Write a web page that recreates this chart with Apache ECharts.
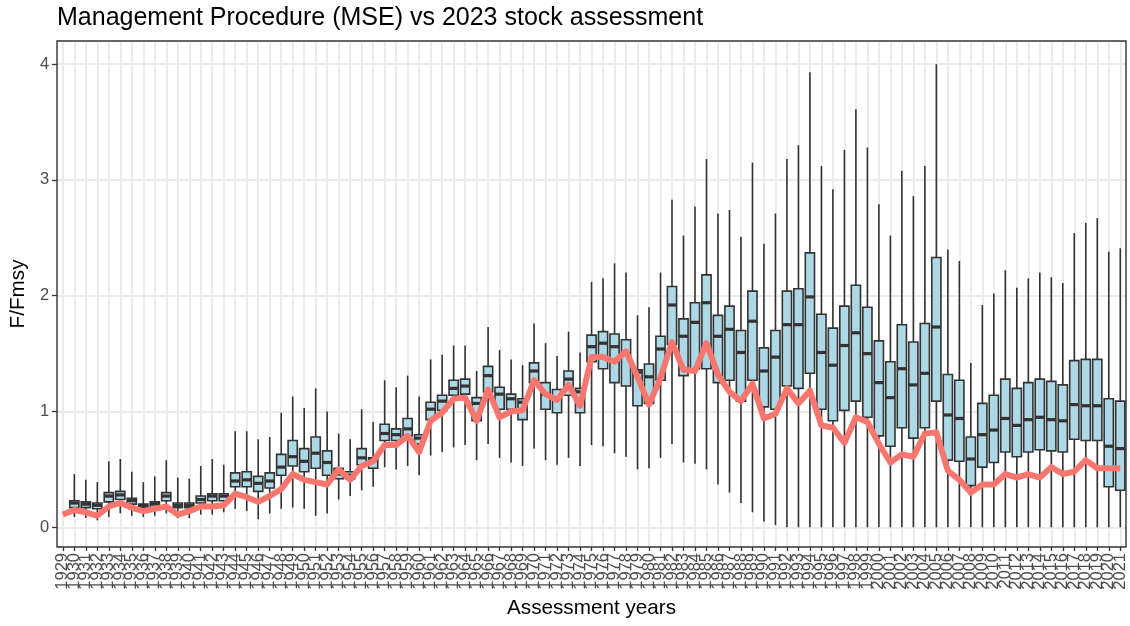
<!DOCTYPE html>
<html>
<head>
<meta charset="utf-8">
<script src="https://cdn.jsdelivr.net/npm/echarts@6.0.0/dist/echarts.min.js"></script>
<style>
  html, body { margin: 0; padding: 0; background: #ffffff; }
  #chart { width: 1130px; height: 626px; }
</style>
</head>
<body>
<div id="chart"></div>
<script>
// Assessment years on the x axis
const years = [
  '1929',
  '1930','1931','1932','1933','1934','1935','1936','1937','1938','1939',
  '1940','1941','1942','1943','1944','1945','1946','1947','1948','1949',
  '1950','1951','1952','1953','1954','1955','1956','1957','1958','1959',
  '1960','1961','1962','1963','1964','1965','1966','1967','1968','1969',
  '1970','1971','1972','1973','1974','1975','1976','1977','1978','1979',
  '1980','1981','1982','1983','1984','1985','1986','1987','1988','1989',
  '1990','1991','1992','1993','1994','1995','1996','1997','1998','1999',
  '2000','2001','2002','2003','2004','2005','2006','2007','2008','2009',
  '2010','2011','2012','2013','2014','2015','2016','2017','2018','2019',
  '2020','2021'
];

// Labelled y ticks
const yTicks = [0, 1, 2, 3, 4];

// 2023 stock assessment F/Fmsy
const stockAssessment = [
  0.11,
  0.15, 0.13, 0.10, 0.18, 0.21, 0.17, 0.14, 0.16, 0.18, 0.11,
  0.14, 0.18, 0.18, 0.19, 0.29, 0.26, 0.22, 0.27, 0.33, 0.46,
  0.41, 0.39, 0.37, 0.50, 0.41, 0.53, 0.57, 0.71, 0.71, 0.79,
  0.65, 0.92, 0.99, 1.11, 1.12, 0.92, 1.19, 0.95, 1.00, 1.01,
  1.27, 1.15, 1.10, 1.23, 1.05, 1.47, 1.47, 1.43, 1.52, 1.30,
  1.06, 1.29, 1.60, 1.36, 1.35, 1.59, 1.32, 1.17, 1.09, 1.24,
  0.94, 0.98, 1.20, 1.07, 1.18, 0.88, 0.86, 0.73, 0.95, 0.91,
  0.72, 0.56, 0.63, 0.61, 0.81, 0.82, 0.49, 0.41, 0.30, 0.37,
  0.37, 0.46, 0.43, 0.46, 0.43, 0.52, 0.46, 0.48, 0.58, 0.51,
  0.51, 0.51
];

// Management procedure (MSE) distribution per year: whisker ends, quartiles, median
const mpLow = [
  null,
  0.09, 0.08, 0.06, 0.09, 0.12, 0.10, 0.09, 0.10, 0.12, 0.08,
  0.08, 0.11, 0.11, 0.13, 0.16, 0.14, 0.07, 0.12, 0.16, 0.17,
  0.16, 0.10, 0.12, 0.24, 0.27, 0.32, 0.35, 0.52, 0.50, 0.53,
  0.45, 0.62, 0.65, 0.69, 0.71, 0.58, 0.72, 0.60, 0.56, 0.53,
  0.68, 0.58, 0.54, 0.60, 0.53, 0.71, 0.70, 0.64, 0.61, 0.50,
  0.51, 0.60, 0.72, 0.56, 0.55, 0.50, 0.37, 0.30, 0.21, 0.13,
  0.05, 0.02, 0.00, 0.00, 0.00, 0.00, 0.00, 0.00, 0.00, 0.00,
  0.00, 0.00, 0.00, 0.00, 0.00, 0.00, 0.00, 0.00, 0.00, 0.00,
  0.00, 0.00, 0.00, 0.00, 0.00, 0.00, 0.00, 0.00, 0.00, 0.00,
  0.00, 0.00
];
const mpQ1 = [
  null,
  0.17, 0.17, 0.16, 0.22, 0.24, 0.20, 0.16, 0.17, 0.23, 0.17,
  0.17, 0.21, 0.23, 0.23, 0.35, 0.35, 0.31, 0.34, 0.45, 0.53,
  0.48, 0.51, 0.45, 0.42, 0.42, 0.54, 0.51, 0.75, 0.75, 0.79,
  0.72, 0.93, 1.01, 1.14, 1.15, 0.92, 1.17, 1.02, 1.02, 0.93,
  1.25, 1.02, 0.99, 1.14, 0.99, 1.43, 1.37, 1.25, 1.22, 1.05,
  1.07, 1.27, 1.58, 1.31, 1.37, 1.37, 1.25, 1.27, 1.09, 1.27,
  1.04, 1.02, 1.22, 1.20, 1.33, 1.02, 0.92, 1.01, 1.09, 0.95,
  0.79, 0.70, 0.86, 0.77, 0.86, 1.09, 0.58, 0.57, 0.36, 0.52,
  0.56, 0.65, 0.61, 0.65, 0.67, 0.66, 0.65, 0.76, 0.75, 0.75,
  0.35, 0.32
];
const mpMedian = [
  null,
  0.21, 0.20, 0.19, 0.27, 0.28, 0.23, 0.18, 0.20, 0.27, 0.19,
  0.19, 0.24, 0.27, 0.27, 0.40, 0.41, 0.38, 0.40, 0.52, 0.61,
  0.57, 0.64, 0.56, 0.46, 0.45, 0.60, 0.58, 0.81, 0.80, 0.85,
  0.77, 1.02, 1.09, 1.20, 1.22, 1.07, 1.31, 1.15, 1.11, 1.08,
  1.35, 1.15, 1.12, 1.28, 1.17, 1.56, 1.59, 1.56, 1.50, 1.34,
  1.30, 1.54, 1.92, 1.65, 1.77, 1.94, 1.65, 1.71, 1.51, 1.78,
  1.35, 1.47, 1.75, 1.75, 1.99, 1.51, 1.40, 1.57, 1.68, 1.50,
  1.25, 1.12, 1.37, 1.23, 1.33, 1.73, 0.97, 0.94, 0.59, 0.80,
  0.84, 0.94, 0.88, 0.93, 0.95, 0.93, 0.92, 1.06, 1.05, 1.05,
  0.70, 0.68
];
const mpQ3 = [
  null,
  0.23, 0.22, 0.21, 0.30, 0.31, 0.25, 0.20, 0.22, 0.30, 0.21,
  0.21, 0.27, 0.29, 0.29, 0.47, 0.48, 0.44, 0.47, 0.63, 0.75,
  0.68, 0.78, 0.66, 0.51, 0.48, 0.68, 0.60, 0.89, 0.85, 0.94,
  0.80, 1.08, 1.14, 1.27, 1.28, 1.12, 1.39, 1.21, 1.15, 1.11,
  1.42, 1.25, 1.19, 1.35, 1.20, 1.66, 1.69, 1.67, 1.62, 1.36,
  1.41, 1.65, 2.08, 1.80, 1.94, 2.18, 1.83, 1.91, 1.70, 2.04,
  1.55, 1.70, 2.04, 2.06, 2.37, 1.84, 1.72, 1.91, 2.09, 1.90,
  1.61, 1.43, 1.75, 1.60, 1.76, 2.33, 1.32, 1.27, 0.78, 1.07,
  1.14, 1.28, 1.20, 1.25, 1.28, 1.26, 1.23, 1.44, 1.45, 1.45,
  1.11, 1.09
];
const mpHigh = [
  null,
  0.46, 0.41, 0.39, 0.57, 0.59, 0.48, 0.39, 0.44, 0.58, 0.43,
  0.42, 0.53, 0.59, 0.54, 0.83, 0.83, 0.76, 0.78, 0.99, 1.13,
  1.03, 1.20, 1.00, 0.81, 0.76, 1.02, 0.91, 1.27, 1.21, 1.31,
  1.13, 1.45, 1.49, 1.57, 1.57, 1.35, 1.73, 1.53, 1.45, 1.40,
  1.76, 1.59, 1.48, 1.69, 1.51, 2.12, 2.15, 2.28, 2.20, 1.83,
  1.90, 2.20, 2.83, 2.52, 2.77, 3.18, 2.71, 2.74, 2.51, 3.15,
  2.45, 2.71, 3.18, 3.30, 3.93, 3.12, 2.92, 3.26, 3.61, 3.28,
  2.79, 2.52, 3.08, 2.86, 3.12, 4.00, 2.40, 2.30, 1.42, 1.92,
  2.02, 2.22, 2.07, 2.15, 2.20, 2.16, 2.11, 2.54, 2.63, 2.67,
  2.38, 2.41
];

// One row per year with a distribution: [category index, low, q1, median, q3, high]
const boxRows = [];
years.forEach(function (yr, i) {
  if (mpMedian[i] != null) {
    boxRows.push([i, mpLow[i], mpQ1[i], mpMedian[i], mpQ3[i], mpHigh[i]]);
  }
});

const FONT = "'Liberation Sans', Arial, sans-serif";
const INK = '#333333';

// Plot panel placement
const PANEL = { left: 57, right: 4, top: 41, bottom: 79 };
const CANVAS_W = 1130, CANVAS_H = 626;

// Box with plain whiskers (no end caps) and a heavier median bar
function drawBox(params, api) {
  const i = api.value(0);
  const band = api.size([1, 0])[0];
  const w = band * 0.8;
  const pLow = api.coord([i, api.value(1)]);
  const pQ1 = api.coord([i, api.value(2)]);
  const pMed = api.coord([i, api.value(3)]);
  const pQ3 = api.coord([i, api.value(4)]);
  const pHigh = api.coord([i, api.value(5)]);
  const x = pMed[0];
  const lineStyle = { stroke: INK, lineWidth: 1.6 };
  return {
    type: 'group',
    children: [
      { type: 'line', shape: { x1: x, y1: pHigh[1], x2: x, y2: pQ3[1] }, style: lineStyle },
      { type: 'line', shape: { x1: x, y1: pQ1[1], x2: x, y2: pLow[1] }, style: lineStyle },
      {
        type: 'rect',
        shape: { x: x - w / 2, y: pQ3[1], width: w, height: pQ1[1] - pQ3[1] },
        style: { fill: '#ADD8E6', stroke: INK, lineWidth: 1.6 }
      },
      {
        type: 'line',
        shape: { x1: x - w / 2, y1: pMed[1], x2: x + w / 2, y2: pMed[1] },
        style: { stroke: INK, lineWidth: 3.2 }
      }
    ]
  };
}

const chart = echarts.init(document.getElementById('chart'), null, { renderer: 'canvas' });

chart.setOption({
  animation: false,
  backgroundColor: '#ffffff',
  textStyle: { fontFamily: FONT },
  title: {
    text: 'Management Procedure (MSE) vs 2023 stock assessment',
    left: 57,
    top: 6,
    padding: 0,
    textStyle: { fontFamily: FONT, fontSize: 25, fontWeight: 'normal', color: '#000000' }
  },
  grid: {
    left: PANEL.left, right: PANEL.right, top: PANEL.top, bottom: PANEL.bottom,
    show: true,
    backgroundColor: '#ffffff',
    borderWidth: 0
  },
  // panel frame drawn above the grid lines
  graphic: [{
    type: 'rect',
    z: 100,
    silent: true,
    shape: {
      x: PANEL.left,
      y: PANEL.top,
      width: CANVAS_W - PANEL.left - PANEL.right,
      height: CANVAS_H - PANEL.top - PANEL.bottom
    },
    style: { fill: 'none', stroke: INK, lineWidth: 1.4 }
  }],
  xAxis: {
    type: 'category',
    data: years,
    boundaryGap: true,
    axisLine: { show: false, onZero: false },
    axisTick: { show: true, alignWithLabel: true, interval: 0, length: 4, lineStyle: { color: INK, width: 1.3 } },
    axisLabel: { interval: 0, rotate: 90, fontSize: 16.5, color: '#4d4d4d', margin: 6, fontFamily: FONT },
    splitLine: { show: true, interval: 0, alignWithLabel: true, lineStyle: { color: '#ebebeb', width: 2 } },
    name: 'Assessment years',
    nameLocation: 'middle',
    nameGap: 50,
    nameTextStyle: { fontSize: 20.7, color: '#000000', fontFamily: FONT }
  },
  yAxis: [
    {
      type: 'value',
      min: -0.17,
      max: 4.2,
      minInterval: 0.5,
      maxInterval: 0.5,
      axisLine: { show: false, onZero: false },
      axisTick: { show: true, customValues: yTicks, length: 5, lineStyle: { color: INK, width: 1.3 } },
      axisLabel: { customValues: yTicks, fontSize: 16.5, color: '#4d4d4d', margin: 8, fontFamily: FONT },
      splitLine: { show: true, showMinLine: false, showMaxLine: false, lineStyle: { color: '#efefef', width: 1 } },
      name: 'F/Fmsy',
      nameLocation: 'middle',
      nameGap: 20,
      nameTextStyle: { fontSize: 20.7, color: '#000000', fontFamily: FONT }
    },
    {
      type: 'value',
      position: 'left',
      min: -0.17,
      max: 4.2,
      minInterval: 1,
      maxInterval: 1,
      axisLine: { show: false, onZero: false },
      axisTick: { show: false },
      axisLabel: { show: false },
      splitLine: { show: true, showMinLine: false, showMaxLine: false, lineStyle: { color: '#ebebeb', width: 2 } }
    }
  ],
  series: [
    {
      name: 'Management Procedure (MSE)',
      type: 'custom',
      renderItem: drawBox,
      data: boxRows,
      encode: { x: 0, y: [1, 2, 3, 4, 5] },
      z: 2,
      silent: true
    },
    {
      name: '2023 stock assessment',
      type: 'line',
      data: stockAssessment,
      symbol: 'none',
      showSymbol: false,
      lineStyle: { color: '#F8766D', width: 6, join: 'round', cap: 'butt' },
      z: 3,
      silent: true
    }
  ]
});
</script>
</body>
</html>
